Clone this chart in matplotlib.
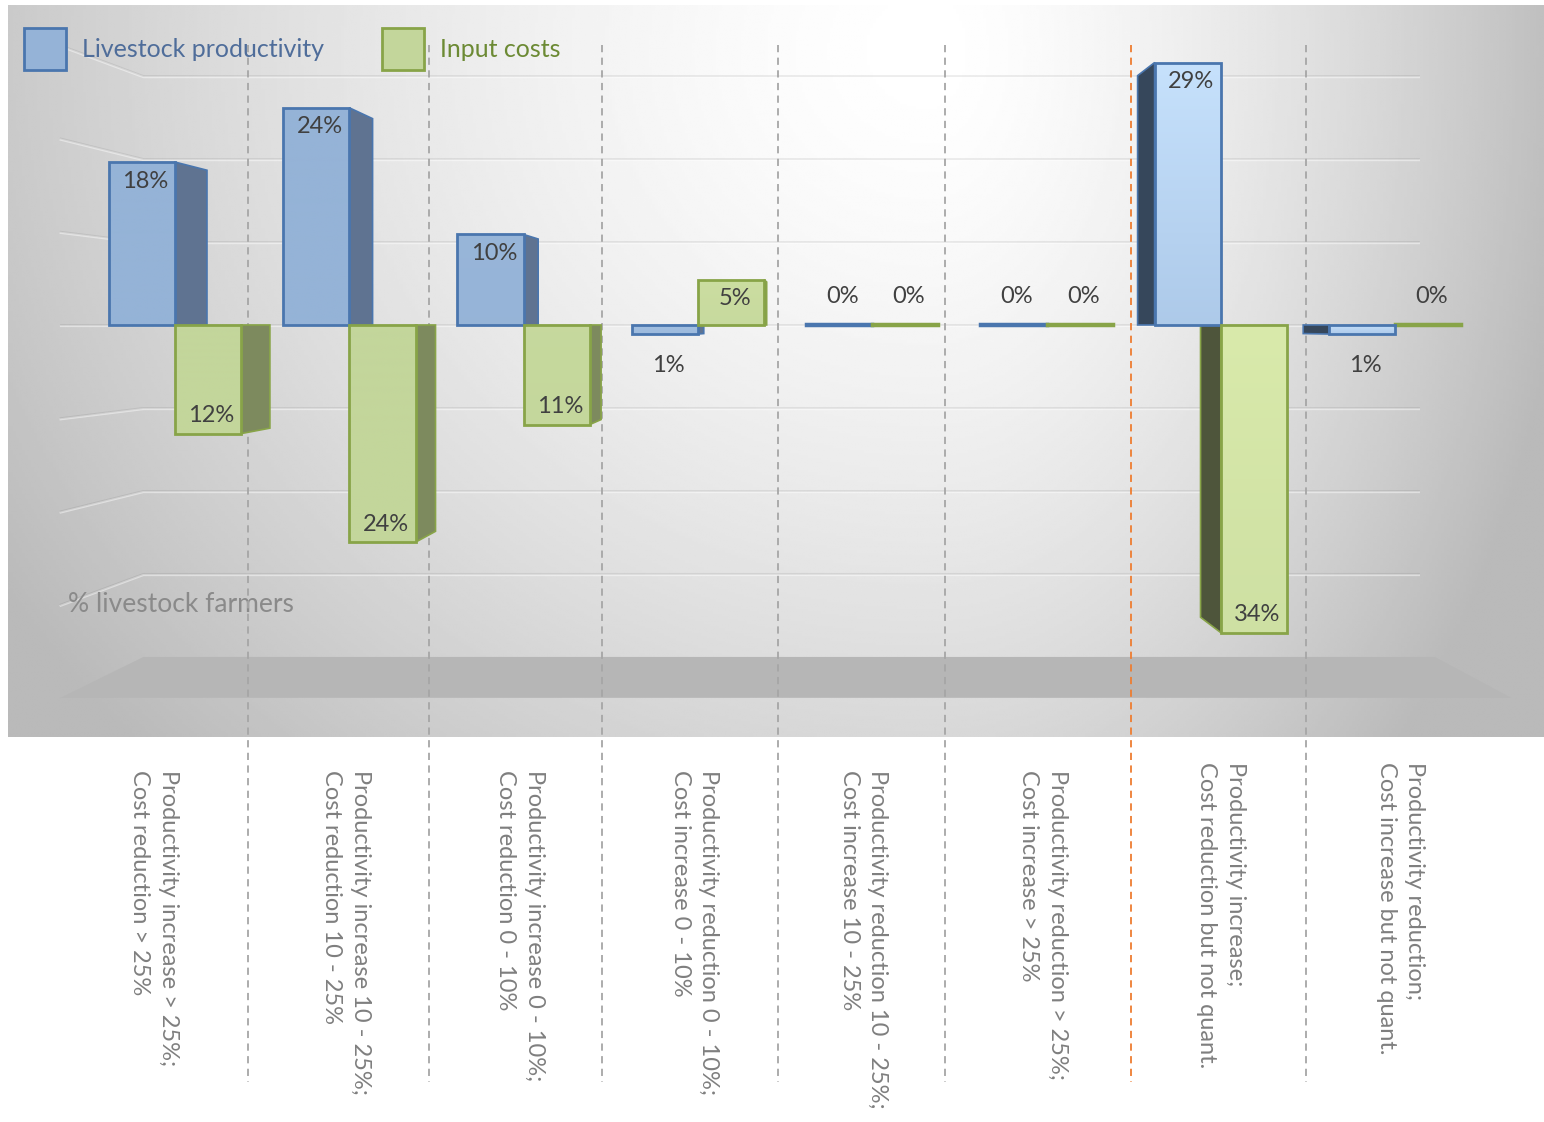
import numpy as np
import matplotlib.pyplot as plt
from matplotlib.colors import to_rgb
from matplotlib.patches import Polygon, Patch

plt.rcParams['font.family'] = ['Lato', 'DejaVu Sans']

categories = [
    'Productivity increase > 25%;\nCost reduction > 25%',
    'Productivity increase 10 - 25%;\nCost reduction 10 - 25%',
    'Productivity increase 0 - 10%;\nCost reduction 0 - 10%',
    'Productivity reduction 0 - 10%;\nCost increase 0 - 10%',
    'Productivity reduction 10 - 25%;\nCost increase 10 - 25%',
    'Productivity reduction > 25%;\nCost increase > 25%',
    'Productivity increase;\nCost reduction but not quant.',
    'Productivity reduction;\nCost increase but not quant.',
]
# signed shares of farmers (up = productivity gain / cost rise, down = loss / saving)
productivity = [18, 24, 10, -1, 0, 0, 29, -1]
input_costs = [-12, -24, -11, 5, 0, 0, -34, 0]
series_names = ['Livestock productivity', 'Input costs']
grid_values = [30, 20, 10, 0, -10, -20, -30]

# colours
BLUE = dict(face='#95b3d7', light='#c6e1fc', side='#5f7391', dark='#36475b', edge='#4a76ae')
GREEN = dict(face='#c3d69b', light='#d9eaab', side='#7d8a5e', dark='#4e553b', edge='#88a448')
TXT = '#404040'

# fake 3d: back faces shrink toward a vanishing point on the zero line
VX = 3.67
DEPTH = 0.95
WALL = 0.917
FRONT = 1.03
BAR_W = 0.38
X_WALL = (-0.53, 7.55)
SEPARATORS = [0.419, 1.457, 2.45, 3.46, 4.42, 5.485, 6.49]
LABEL_SHIFT = [-0.1, 0, 0, 0, -0.03, 0, 0.02, 0.05]


def proj(x, y, d):
    return VX + d * (x - VX), d * y


def blend(c1, c2, t):
    a = np.array(to_rgb(c1))
    b = np.array(to_rgb(c2))
    return a + (b - a) * t


def draw_bar(ax, x0, v, pal):
    x1 = x0 + BAR_W
    t = float(np.clip(((x0 + x1) / 2 - 1.6) / 4.2, 0, 1))
    if v == 0:
        ax.add_patch(Polygon([(x0, 0), (x1, 0), (x1, 0.15), (x0, 0.15)],
                             closed=True, fc=pal['edge'], ec=pal['edge'], lw=2.5, zorder=5))
        return
    xe, side = None, None
    if x1 <= VX:
        xe, side = x1, pal['side']
    elif x0 >= VX:
        xe, side = x0, pal['dark']
    if xe is not None:
        bx, by = proj(xe, v, DEPTH)
        bx0, _ = proj(xe, 0, DEPTH)
        ax.add_patch(Polygon([(xe, 0), (xe, v), (bx, by), (bx0, 0)], closed=True,
                             fc=side, ec=pal['edge'], lw=1.2, zorder=4))
    front = Polygon([(x0, 0), (x1, 0), (x1, v), (x0, v)], closed=True,
                    fc='none', ec=pal['edge'], lw=2, zorder=5.2)
    ax.add_patch(front)
    # light falls from the top, stronger on the right-hand bars
    top = blend(pal['face'], pal['light'], t)
    bot = blend(pal['face'], pal['light'], t * 0.5)
    ramp = np.linspace(0, 1, 64)[:, None, None]
    img = top[None, None, :] * (1 - ramp) + bot[None, None, :] * ramp
    lo, hi = min(0, v), max(0, v)
    im = ax.imshow(img, extent=(x0, x1, lo, hi), aspect='auto',
                   interpolation='bilinear', zorder=5)
    im.set_clip_path(front)


def value_label(ax, xc, v):
    if v > 0:
        y = v - 2.1
    elif v == 0:
        y = 3.2
    elif v > -2:
        y = v - 3.5
    else:
        y = v + 2.0
    ax.text(xc + 0.02, y, f'{abs(v)}%', ha='center', va='center', fontsize=17,
            color=TXT, zorder=6)


fig = plt.figure(figsize=(15.44, 11.22), dpi=100)
ax = fig.add_axes([0, 0, 1, 1])
ax.set_xlim(-1.004, 7.854)
ax.set_ylim(-88.07, 35.91)
ax.axis('off')

# chart area with soft grey gradient
bx0, bx1, by0, by1 = -0.958, 7.854, -45.5, 35.36
gx = np.linspace(bx0, bx1, 500)
gy = np.linspace(by1, by0, 300)
GX, GY = np.meshgrid(gx, gy)
u = np.where(GX < 4.33, (GX - 4.33) / 6.3, (GX - 4.33) / 3.73)
w = (GY - 30.4) / 110.5
d = np.clip(np.sqrt(u ** 2 + w ** 2), 0, 1.0)
shade = 1 - 0.27 * d ** 1.5
ax.imshow(shade, cmap='gray', vmin=0, vmax=1, extent=(bx0, bx1, by0, by1),
          aspect='auto', interpolation='bilinear', zorder=0)

# floor
fl = [proj(X_WALL[0], -40, WALL), proj(X_WALL[1], -40, WALL),
      proj(X_WALL[1], -40, FRONT), proj(X_WALL[0], -40, FRONT)]
ax.add_patch(Polygon(fl, closed=True, fc='#b6b6b6', ec='none', zorder=1))

# back wall gridlines with their side-wall return
for g in grid_values:
    p0 = proj(X_WALL[0], g, WALL)
    p1 = proj(X_WALL[1] - 0.1, g, WALL)
    pf = proj(X_WALL[0], g, FRONT)
    xs = [pf[0], p0[0], p1[0]]
    ys = [pf[1], p0[1], p1[1]]
    ax.plot(xs, [y - 0.12 for y in ys], color='white', alpha=0.45, lw=1.6, zorder=1)
    ax.plot(xs, ys, color='black', alpha=0.07, lw=1.4, zorder=1)

ax.text(-0.614, -30.9, '% livestock farmers', color='#8a8a8a', fontsize=19,
        va='center', ha='left', zorder=2)

# category separators
for k, sx in enumerate(SEPARATORS):
    col = '#ee7d31' if k == 5 else '#a6a6a6'
    ax.plot([sx, sx], [30.9, -83.6], color=col, lw=1.3, ls=(0, (4, 3)), zorder=3)

for i, (p, c) in enumerate(zip(productivity, input_costs)):
    draw_bar(ax, i - BAR_W, p, BLUE)
    draw_bar(ax, i, c, GREEN)
    value_label(ax, i - BAR_W / 2, p)
    value_label(ax, i + BAR_W / 2, c)

for i, lab in enumerate(categories):
    ax.text(i - 0.02 + LABEL_SHIFT[i], -49.2 + (0.9 if i >= 6 else 0), lab,
            rotation=-90, ha='center', va='top', multialignment='left',
            linespacing=1.45, color='#7f7f7f', fontsize=17)

handles = [Patch(fc=BLUE['face'], ec=BLUE['edge'], lw=2),
           Patch(fc=GREEN['face'], ec=GREEN['edge'], lw=2)]
ax.legend(handles, series_names, loc='upper left', bbox_to_anchor=(24 / 1544, 1 - 28 / 1122),
          ncol=2, frameon=False, fontsize=18, handlelength=1.68, handleheight=2.2,
          handletextpad=0.64, columnspacing=2.3, borderpad=0, borderaxespad=0,
          labelcolor=['#4f6d9a', '#6c8a34'])

fig.savefig('out.png', dpi=100)
